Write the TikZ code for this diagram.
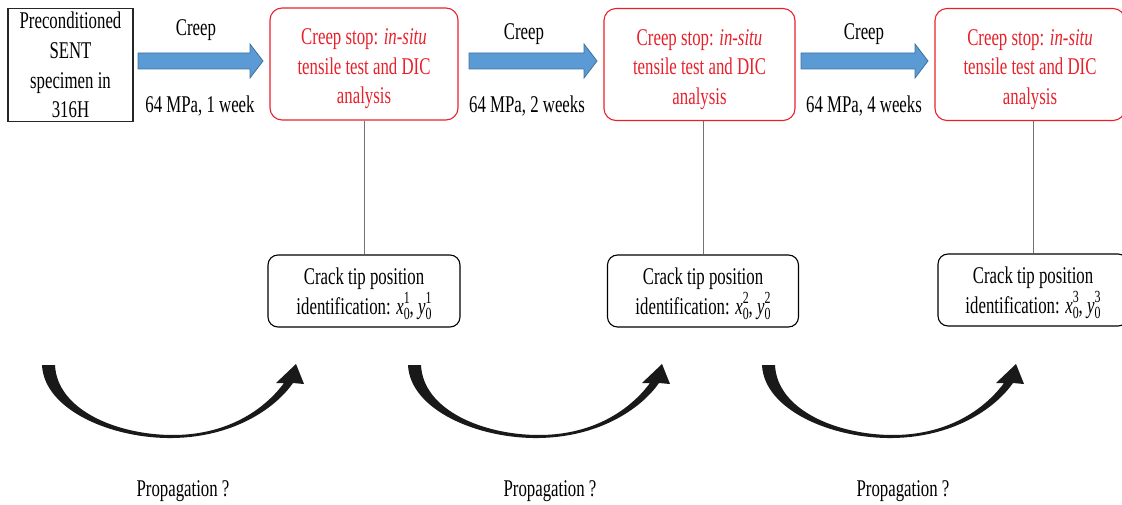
\documentclass[tikz,border=0pt]{standalone}
\usepackage{fontspec}
\setmainfont{Liberation Serif}[FakeStretch=0.7]
\usetikzlibrary{calc}
\definecolor{boxred}{HTML}{E8202A}
\definecolor{arrowblue}{HTML}{5B9BD5}
\definecolor{arrowedge}{HTML}{41719C}
\newcommand{\tippos}[2]{\textit{#1}\makebox[0pt][l]{\raisebox{0.95ex}{\fontsize{17}{17}\selectfont #2}}\raisebox{-0.5ex}{\fontsize{17}{17}\selectfont 0}}
\tikzset{
  txt/.style={font=\fontsize{24}{29.6}\selectfont, inner sep=0pt, align=center},
  plainbox/.style={txt, draw=black!85, line width=1.1pt, minimum width=125pt, minimum height=113pt},
  stopbox/.style={draw=boxred, line width=1.1pt, rounded corners=12pt, minimum height=112pt, inner sep=0pt},
  stoptext/.style={txt, text=boxred},
  tipbox/.style={draw=black, line width=1.1pt, rounded corners=10pt, minimum height=72pt, inner sep=0pt},
  conn/.style={draw=black!55, line width=0.8pt},
  bluearrow/.style={fill=arrowblue, draw=arrowedge, line width=0.8pt},
  crescent/.pic={
    \fill[black!90] (0,0) .. controls (2,45) and (70,74) .. (131,73)
      .. controls (190,72) and (232,45) .. (251,18)
      -- (262,19) -- (254,-1) -- (234,18) -- (242,18)
      .. controls (222,45) and (185,70) .. (131,70)
      .. controls (75,70) and (15,45) .. (13,0) -- cycle;
  }
}
\begin{document}
\begin{tikzpicture}[x=1pt,y=-1pt]
\useasboundingbox (0,0) rectangle (1122,505);
% boxes
\node[plainbox] (spec) at (70.5,65) {Preconditioned\\SENT\\specimen in\\316H};
\node[stopbox, minimum width=188pt] (r1) at (364,64) {};
\node[stoptext] (r1t) at ($(r1.center)+(0,5)$) {Creep stop: \textit{in-situ}\\tensile test and DIC\\analysis};
\node[stopbox, minimum width=191pt] (r2) at (699.5,64.5) {};
\node[stoptext] (r2t) at ($(r2.center)+(0,5)$) {Creep stop: \textit{in-situ}\\tensile test and DIC\\analysis};
\node[stopbox, minimum width=190pt] (r3) at (1030,64.5) {};
\node[stoptext] (r3t) at ($(r3.center)+(0,5)$) {Creep stop: \textit{in-situ}\\tensile test and DIC\\analysis};
\node[tipbox, minimum width=192pt] (c1) at (364,291) {};
\node[txt] (c1t) at ($(c1.center)+(0,3)$) {Crack tip position\\identification: \tippos{x}{1}, \tippos{y}{1}};
\node[tipbox, minimum width=191pt] (c2) at (703,291) {};
\node[txt] (c2t) at ($(c2.center)+(0,3)$) {Crack tip position\\identification: \tippos{x}{2}, \tippos{y}{2}};
\node[tipbox, minimum width=190pt] (c3) at (1033,290) {};
\node[txt] (c3t) at ($(c3.center)+(0,3)$) {Crack tip position\\identification: \tippos{x}{3}, \tippos{y}{3}};
% connectors
\draw[conn] (c1.north |- r1.south) -- (c1.north);
\draw[conn] (c2.north |- r2.south) -- (c2.north);
\draw[conn] (c3.north |- r3.south) -- (c3.north);
% blue arrows
\draw[bluearrow] (138,53) -- (250,53) -- (250,44) -- (263,61) -- (250,78) -- (250,69) -- (138,69) -- cycle;
\draw[bluearrow] (469,53) -- (584,53) -- (584,44) -- (597,61) -- (584,78) -- (584,69) -- (469,69) -- cycle;
\draw[bluearrow] (801,53) -- (915,53) -- (915,44) -- (928,61) -- (915,78) -- (915,69) -- (801,69) -- cycle;
% arrow labels
\node[txt] (cr1) at (196,30) {Creep};
\node[txt] (cr2) at (524,34) {Creep};
\node[txt] (cr3) at (864,34) {Creep};
\node[txt] (l1) at (200,106) {64 MPa, 1 week};
\node[txt] (l2) at (527,106) {64 MPa, 2 weeks};
\node[txt] (l3) at (864,106) {64 MPa, 4 weeks};
% propagation arrows
\pic at (42,365) {crescent};
\pic at (408,365) {crescent};
\pic at (762,365) {crescent};
\node[txt] (p1) at (183,491) {Propagation ?};
\node[txt] (p2) at (550,491) {Propagation ?};
\node[txt] (p3) at (903,491) {Propagation ?};
\end{tikzpicture}
\end{document}
